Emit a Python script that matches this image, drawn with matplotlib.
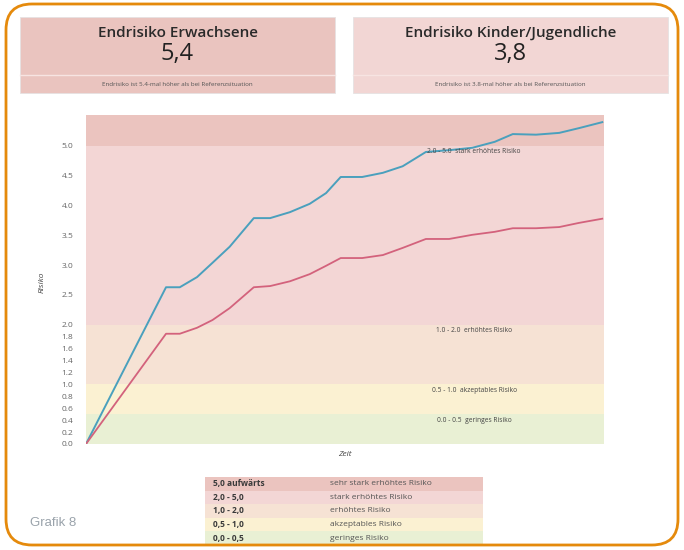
import matplotlib.pyplot as plt
from matplotlib.patches import FancyBboxPatch, Rectangle
from matplotlib.transforms import IdentityTransform

plt.rcParams['font.family'] = ['Open Sans', 'DejaVu Sans']

zeit = [0, 0.93, 1.09, 1.29, 1.47, 1.67, 1.95, 2.14, 2.37, 2.60, 2.79, 2.96,
        3.21, 3.45, 3.68, 3.95, 4.22, 4.49, 4.75, 4.96, 5.23, 5.50, 5.73, 6.0]
risiko_erwachsene = [0, 2.63, 2.63, 2.80, 3.04, 3.31, 3.79, 3.79, 3.89, 4.03, 4.21, 4.48,
                     4.48, 4.55, 4.66, 4.90, 4.93, 4.97, 5.07, 5.20, 5.19, 5.22, 5.30, 5.40]
risiko_kinder = [0, 1.85, 1.85, 1.95, 2.08, 2.28, 2.63, 2.65, 2.73, 2.85, 2.99, 3.12,
                 3.12, 3.17, 3.29, 3.44, 3.44, 3.51, 3.56, 3.62, 3.62, 3.64, 3.71, 3.78]

band_grenzen = [0, 0.5, 1.0, 2.0, 5.0, 5.52]
band_farben = ['#e9f0d4', '#fbf1d2', '#f6e2d4', '#f3d6d5', '#ebc4bf']
band_texte = ['0.0 - 0.5  geringes Risiko', '0.5 - 1.0  akzeptables Risiko',
              '1.0 - 2.0  erhöhtes Risiko', '2.0 - 5.0  stark erhöhtes Risiko']

y_ticks = [0.0, 0.2, 0.4, 0.6, 0.8, 1.0, 1.2, 1.4, 1.6, 1.8, 2.0, 2.5, 3.0, 3.5, 4.0, 4.5, 5.0]

legende_bereich = ['5,0 aufwärts', '2,0 - 5,0', '1,0 - 2,0', '0,5 - 1,0', '0,0 - 0,5']
legende_text = ['sehr stark erhöhtes Risiko', 'stark erhöhtes Risiko', 'erhöhtes Risiko',
                'akzeptables Risiko', 'geringes Risiko']

kacheln_titel = ['Endrisiko Erwachsene', 'Endrisiko Kinder/Jugendliche']
kacheln_wert = ['5,4', '3,8']
kacheln_info = ['Endrisiko ist 5.4-mal höher als bei Referenzsituation',
                'Endrisiko ist 3.8-mal höher als bei Referenzsituation']
kacheln_farbe = ['#eac4bf', '#f2d6d4']

W, H = 684, 550
fig = plt.figure(figsize=(W / 100, H / 100), dpi=100)
px = IdentityTransform()

def Y(py):
    return H - py

# oranger Rahmen
fig.patches.append(FancyBboxPatch((6, Y(545)), 672, 541, boxstyle='round,pad=0,rounding_size=26',
                                  transform=px, fill=False, edgecolor='#e58a0c', linewidth=2, zorder=10))

# Kacheln oben
for i, x0 in enumerate([20, 353]):
    fig.patches.append(Rectangle((x0, Y(93)), 315, 76, transform=px, facecolor=kacheln_farbe[i],
                                 edgecolor='#e6e2e2', linewidth=0.6))
    fig.lines.append(plt.Line2D([x0, x0 + 315], [Y(75), Y(75)], transform=px, color='#f7e4e2', linewidth=1))
    cx = x0 + 157.5
    fig.text(cx, Y(33), kacheln_titel[i], transform=px, ha='center', va='center',
             fontsize=11, fontweight='semibold', color='#2a2a2a')
    fig.text(cx, Y(54), kacheln_wert[i], transform=px, ha='center', va='center',
             fontsize=17, fontweight='medium', color='#222222')
    fig.text(cx, Y(85), kacheln_info[i], transform=px, ha='center', va='center',
             fontsize=4.5, color='#555555')

# Diagramm
ax = fig.add_axes([86 / W, 1 - 444 / H, 518 / W, 329 / H])
for j in range(len(band_farben)):
    ax.axhspan(band_grenzen[j], band_grenzen[j + 1], color=band_farben[j], linewidth=0)
for j, t in enumerate(band_texte):
    ax.text(4.51, band_grenzen[j + 1] - 0.1, t, ha='center', va='center', fontsize=4.8, color='#444444')

ax.plot(zeit, risiko_erwachsene, color='#4aa0bd', linewidth=1.4)
ax.plot(zeit, risiko_kinder, color='#d3627c', linewidth=1.3)

ax.set_xlim(0, 6.02)
ax.set_ylim(0, 5.52)
ax.set_yticks(y_ticks)
ax.set_yticklabels(['%.1f' % v for v in y_ticks], fontsize=6, color='#666666')
ax.set_xticks([])
ax.tick_params(axis='y', length=0, pad=9)
for s in ax.spines.values():
    s.set_visible(False)

fig.text(42, Y(282), 'Risiko', transform=px, rotation=90, ha='center', va='center',
         fontsize=6, style='italic', color='#444444')
fig.text(345, Y(454), 'Zeit', transform=px, ha='center', va='center',
         fontsize=6, style='italic', color='#444444')

# Legende unten
farben_legende = band_farben[::-1]
zeile = 13.6
for k in range(5):
    top = 477 + k * zeile
    fig.patches.append(Rectangle((205, Y(top + zeile)), 278, zeile, transform=px,
                                 facecolor=farben_legende[k], linewidth=0))
    fig.text(213, Y(top + zeile / 2), legende_bereich[k], transform=px, va='center',
             fontsize=6, fontweight='bold', color='#3a3a3a')
    fig.text(330, Y(top + zeile / 2), legende_text[k], transform=px, va='center',
             fontsize=6, color='#555555')

fig.text(30, Y(523), 'Grafik 8', transform=px, va='center', fontsize=9.5, color='#9aa3ab',
         family=['Liberation Sans', 'DejaVu Sans'])

fig.savefig('out.png', dpi=100)
